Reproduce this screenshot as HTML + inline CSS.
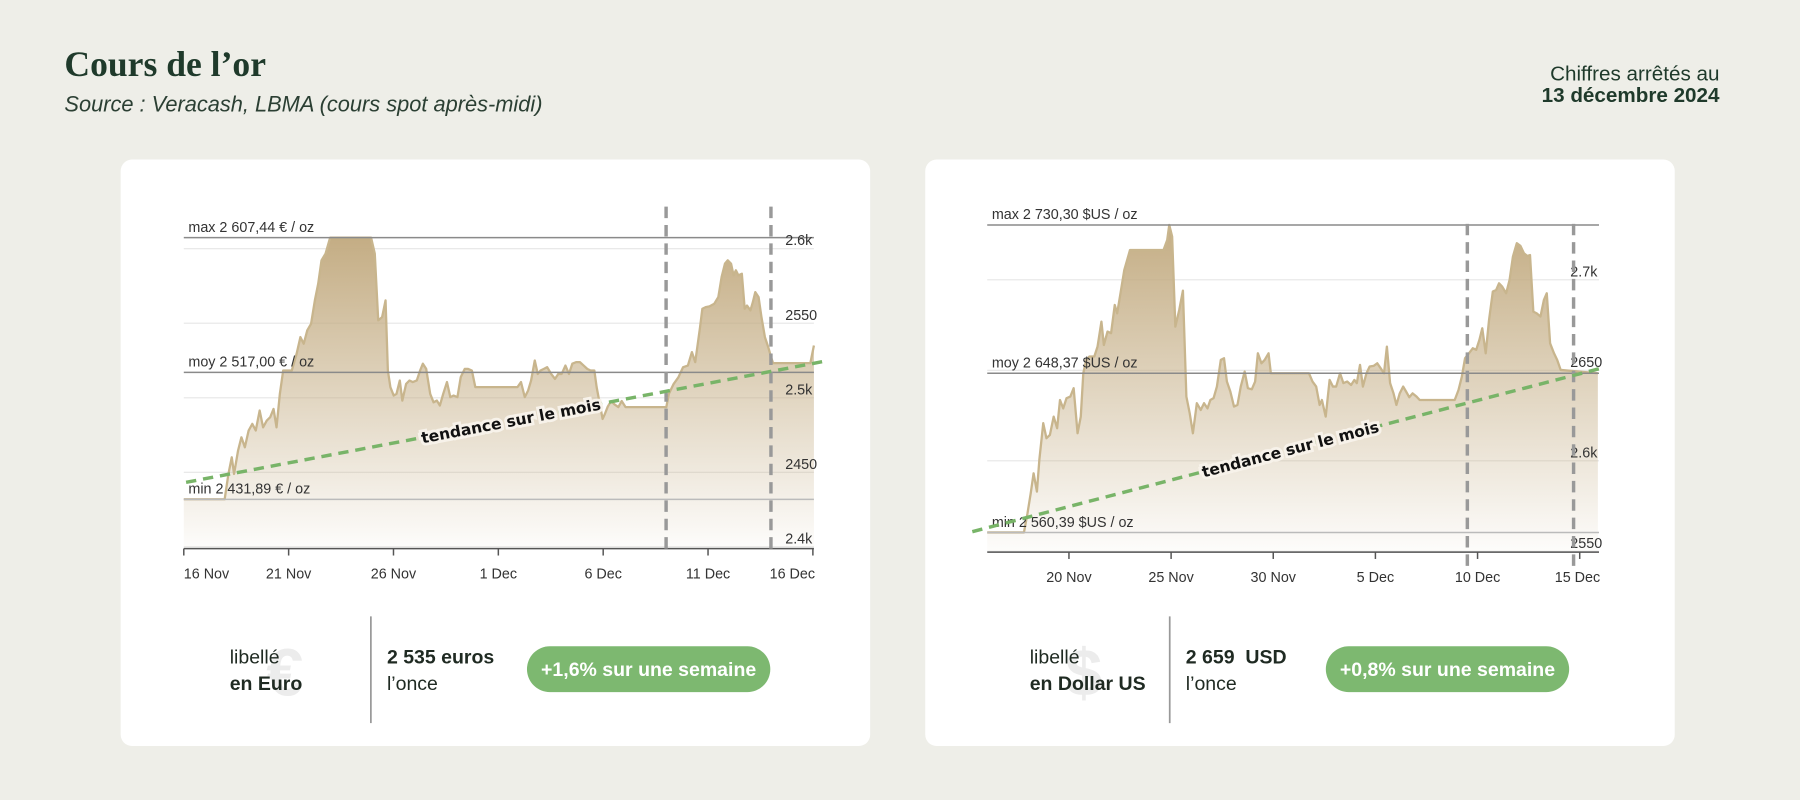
<!DOCTYPE html>
<html><head><meta charset="utf-8"><style>
html,body{margin:0;padding:0;background:#eeeee8;}
svg{display:block;}
.ax{font-family:"Liberation Sans",Arial,sans-serif;font-size:12.5px;fill:#333;}
</style></head><body>
<svg id="root" width="1800" height="800" viewBox="0 0 1568 697" xmlns="http://www.w3.org/2000/svg">
<defs>
<linearGradient id="gL" x1="0" y1="0" x2="0" y2="1"><stop offset="0" stop-color="#c4ad84"/><stop offset="1" stop-color="#c4ad84" stop-opacity="0.03"/></linearGradient>
</defs>
<rect x="0" y="0" width="1568" height="697" fill="#eeeee8"/>
<text x="56" y="66" font-family="'Liberation Serif',serif" font-weight="bold" font-size="31" fill="#1f3a2b">Cours de l’or</text>
<text x="56" y="97" font-family="'Liberation Sans',sans-serif" font-style="italic" font-size="19" fill="#2b3f33">Source : Veracash, LBMA (cours spot après-midi)</text>
<text x="1498" y="70" text-anchor="end" font-family="'Liberation Sans',sans-serif" font-size="18" fill="#1f3a2b">Chiffres arrêtés au</text>
<text x="1498" y="89" text-anchor="end" font-family="'Liberation Sans',sans-serif" font-weight="bold" font-size="18" fill="#1f3a2b">13 décembre 2024</text>

<rect x="105" y="139" width="653" height="511" rx="10" fill="#fff"/>
<rect x="806" y="139" width="653" height="511" rx="10" fill="#fff"/>
<g id="chartL"></g>
<g id="chartR"></g>

<!-- bottom left -->
<text x="232" y="606" font-family="'Liberation Sans',sans-serif" font-weight="bold" font-size="58" fill="#ececec">€</text>
<text x="200" y="578" font-family="'Liberation Sans',sans-serif" font-size="17" fill="#1f2a22">libellé</text>
<text x="200" y="601" font-family="'Liberation Sans',sans-serif" font-weight="bold" font-size="17" fill="#1f2a22">en Euro</text>
<line x1="323" y1="537" x2="323" y2="630" stroke="#999" stroke-width="1.5"/>
<text x="337" y="578" font-family="'Liberation Sans',sans-serif" font-weight="bold" font-size="17" fill="#1f2a22">2 535 euros</text>
<text x="337" y="601" font-family="'Liberation Sans',sans-serif" font-size="17" fill="#1f2a22">l’once</text>
<rect x="459" y="563" width="212" height="40" rx="20" fill="#7db870"/>
<text x="565" y="589" text-anchor="middle" font-family="'Liberation Sans',sans-serif" font-weight="bold" font-size="17" fill="#fff">+1,6% sur une semaine</text>
<!-- bottom right -->
<text x="928" y="606" font-family="'Liberation Sans',sans-serif" font-weight="bold" font-size="58" fill="#ececec">$</text>
<text x="897" y="578" font-family="'Liberation Sans',sans-serif" font-size="17" fill="#1f2a22">libellé</text>
<text x="897" y="601" font-family="'Liberation Sans',sans-serif" font-weight="bold" font-size="17" fill="#1f2a22">en Dollar US</text>
<line x1="1019" y1="537" x2="1019" y2="630" stroke="#999" stroke-width="1.5"/>
<text x="1033" y="578" font-family="'Liberation Sans',sans-serif" font-weight="bold" font-size="17" fill="#1f2a22" xml:space="preserve">2 659  USD</text>
<text x="1033" y="601" font-family="'Liberation Sans',sans-serif" font-size="17" fill="#1f2a22">l’once</text>
<rect x="1155" y="563" width="212" height="40" rx="20" fill="#7db870"/>
<text x="1261" y="589" text-anchor="middle" font-family="'Liberation Sans',sans-serif" font-weight="bold" font-size="17" fill="#fff">+0,8% sur une semaine</text>
</svg>
<script>
// Euro series: day offset from 16 Nov, price EUR/oz
const eurDays=[0,1.95,2.13,2.29,2.40,2.59,2.75,2.91,3.09,3.27,3.43,3.62,3.78,3.96,4.12,4.28,4.42,4.58,4.74,4.92,5.15,5.38,5.56,5.72,5.89,6.07,6.25,6.41,6.57,6.76,6.98,8.93,9.11,9.27,9.46,9.62,9.73,9.85,10.01,10.14,10.30,10.42,10.60,10.76,10.92,11.11,11.27,11.40,11.56,11.75,11.91,12.07,12.21,12.37,12.55,12.71,12.87,13.05,13.21,13.40,13.56,13.74,13.90,15.91,16.08,16.26,16.42,16.56,16.74,16.88,17.01,17.17,17.33,17.52,17.70,17.86,18.02,18.20,18.37,18.53,18.71,18.89,19.07,19.24,19.40,19.58,19.69,19.81,19.97,20.08,20.22,20.38,20.54,20.72,20.88,21.07,23.01,23.13,23.36,23.59,23.81,24.04,24.23,24.39,24.62,24.73,24.89,25.07,25.30,25.49,25.65,25.81,25.94,26.10,26.22,26.33,26.45,26.61,26.75,26.86,27.02,27.14,27.25,27.41,27.55,27.71,27.87,28.01,28.10,29.88,30.05];
const eurVals=[2431.9,2431.9,2448.9,2460.1,2448.9,2464.6,2473.5,2466.8,2478,2482.5,2478,2491.4,2480.2,2484.7,2487,2492.5,2480.2,2502.6,2518.3,2518.3,2518.3,2529.5,2540.7,2536.2,2545.2,2549.6,2565.3,2576.5,2592.2,2596.7,2607.4,2607.4,2596.7,2551.9,2554.1,2565.3,2518.3,2507.1,2501.5,2502.6,2511.6,2498.1,2509.3,2511.6,2510.5,2511.6,2518.3,2522.8,2519.4,2502.6,2497,2498.1,2494.8,2502.6,2510.5,2500.4,2501.5,2500.4,2513.8,2519.4,2519.4,2518.3,2507.1,2507.1,2510.5,2500.4,2504.9,2511.6,2525,2516,2518.3,2519.4,2520.5,2516,2512.7,2516,2516,2521.6,2516,2522.8,2523.9,2523.9,2521.6,2519.4,2518.3,2518.3,2507.1,2498.1,2485.8,2489.2,2494.1,2497.8,2495.5,2493.7,2497.8,2493.7,2493.7,2502.6,2509.3,2513.8,2520.5,2521.6,2530.6,2523.9,2547.4,2559.7,2560.8,2561.3,2563.1,2567.5,2581,2590,2592.2,2590,2582.1,2585.5,2582.1,2583.2,2559.7,2561.9,2558.6,2564.2,2570.9,2567.5,2554.1,2540.7,2534,2527.2,2523.2,2523.2,2535.1];
// USD series
const usdDays=[0,1.80,1.97,2.13,2.27,2.43,2.55,2.74,2.90,3.07,3.25,3.42,3.56,3.72,3.88,4.07,4.23,4.42,4.58,4.70,4.84,5.00,5.24,5.40,5.59,5.71,5.89,6.06,6.24,6.36,6.52,6.71,6.99,8.63,8.81,8.91,9.05,9.21,9.40,9.58,9.75,9.91,10.07,10.26,10.45,10.61,10.78,10.92,11.08,11.24,11.43,11.59,11.73,11.90,12.08,12.25,12.41,12.60,12.76,12.95,13.11,13.25,13.42,13.58,13.77,13.88,15.75,15.92,16.10,16.27,16.38,16.57,16.76,16.92,17.08,17.27,17.43,17.62,17.81,17.97,18.09,18.25,18.39,18.56,18.72,18.91,19.09,19.26,19.42,19.56,19.72,19.89,20.03,20.19,20.36,20.50,20.66,20.82,21.01,21.17,22.88,23.07,23.23,23.39,23.58,23.77,23.93,24.09,24.23,24.40,24.56,24.75,24.91,25.05,25.21,25.40,25.57,25.73,25.92,26.10,26.27,26.43,26.57,26.73,26.90,27.08,27.25,27.39,27.55,27.74,27.90,28.07,29.89];
const usdVals=[2560.4,2560.4,2571.1,2582.1,2593.1,2583,2600.5,2620.8,2612.5,2614.3,2624.4,2618,2633.6,2629,2634.6,2635.5,2640.1,2615.2,2624.4,2648.4,2655.7,2657.6,2657.6,2663.1,2676.9,2664,2671.4,2670.5,2686.1,2681.5,2692.6,2705.4,2716.5,2716.5,2722,2730.3,2723.9,2674.1,2683.4,2694,2635.5,2626.3,2615.2,2631.8,2628.1,2631.8,2629,2633.6,2634.6,2641,2655.7,2656.7,2643.8,2638.3,2630,2630.9,2641,2649.3,2640.1,2639.5,2643.8,2659.4,2653.9,2655.7,2659.4,2648.4,2648.4,2643.8,2641,2630.9,2633.6,2624.4,2644.7,2641,2641,2648.4,2642.9,2643.8,2641.9,2644.7,2642.9,2653,2641,2648.4,2652.1,2652.4,2653.9,2651.1,2648.4,2663.1,2642.9,2637.3,2630.9,2637.3,2641,2638.3,2635.1,2637.3,2635.5,2633.6,2633.6,2639.1,2646.5,2656.7,2659.4,2662.2,2661.3,2666.8,2673.2,2659.4,2677.8,2693.5,2694.4,2698.1,2696.2,2692.6,2699.9,2712.8,2720.2,2718.7,2714.7,2713.2,2713.7,2682.4,2681.5,2679.7,2688.9,2692.6,2664.9,2659.4,2655.7,2650.2,2648.4];
const eurTicks=["16 Nov","21 Nov","26 Nov","1 Dec","6 Dec","11 Dec","16 Dec"];
const eurTickDays=[0,5,10,15,20,25,30];
const usdTicks=["20 Nov","25 Nov","30 Nov","5 Dec","10 Dec","15 Dec"];
const usdTickDays=[4,9,14,19,24,29];
const eurYTicks=[2600,2550,2500,2450,2400];
const eurYLabels=["2.6k","2550","2.5k","2450","2.4k"];
const usdYTicks=[2700,2650,2600,2550];
const usdYLabels=["2.7k","2650","2.6k","2550"];
const eurStats={max:2607.44,moy:2517.00,min:2431.89};
const usdStats={max:2730.30,moy:2648.37,min:2560.39};
const eurStatLabels=["max 2 607,44 € / oz","moy 2 517,00 € / oz","min 2 431,89 € / oz"];
const usdStatLabels=["max 2 730,30 $US / oz","moy 2 648,37 $US / oz","min 2 560,39 $US / oz"];
const eurTrend=[2443,2523];
const usdTrend=[2563,2651];
const eurMarkerDays=[23,28];
const usdMarkerDays=[23.5,28.7];

const NS="http://www.w3.org/2000/svg";
function mk(p,tag,at,txt){const e=document.createElementNS(NS,tag);for(const k in at)e.setAttribute(k,at[k]);if(txt!==undefined)e.textContent=txt;p.appendChild(e);return e;}

function draw(g,cfg){
  const X=d=>cfg.x0+d*cfg.dx, Y=v=>cfg.yMax+(cfg.vMax-v)*cfg.ky;
  const yb=Y(cfg.vBottom);
  // gridlines
  cfg.yt.forEach((v,i)=>{
    const l=mk(g,'line',{x1:cfg.x0,x2:cfg.xEnd,y1:Y(v),y2:Y(v),stroke:'#e6e6e6','stroke-width':1});
    
    
  });
  // area
  let d='M'+X(cfg.days[0])+','+yb;
  cfg.days.forEach((dd,i)=>{d+=' L'+X(dd).toFixed(1)+','+Y(cfg.vals[i]).toFixed(1);});
  d+=' L'+X(cfg.days[cfg.days.length-1])+','+yb+' Z';
  const a=mk(g,'path',{d:d,fill:'url(#gL)'});
  
  
  let dl='';
  cfg.days.forEach((dd,i)=>{dl+=(i?' L':'M')+X(dd).toFixed(1)+','+Y(cfg.vals[i]).toFixed(1);});
  const ln=mk(g,'path',{d:dl,fill:'none',stroke:'#c8b58d','stroke-width':2,'stroke-linejoin':'round'});
  
  
  // stat lines
  const sv=[cfg.stats.max,cfg.stats.moy,cfg.stats.min];
  const scol=['#8a8a8a','#8a8a8a','#bbbbbb'];
  sv.forEach((v,i)=>{
    const l=mk(g,'line',{x1:cfg.x0,x2:cfg.xEnd,y1:Y(v),y2:Y(v),stroke:scol[i],'stroke-width':1.3});
    
    
    const t=mk(g,'text',{x:cfg.x0+4,y:Y(v)-5,class:'ax'},cfg.statLabels[i]);
    
    
  });
  // y labels
  cfg.yt.forEach((v,i)=>{
    const t=mk(g,'text',{x:cfg.ylx,y:Y(v)-3,class:'ax',fill:'#555'},cfg.yl[i]);
    
    
  });
  // x axis
  const ax=mk(g,'line',{x1:cfg.x0,x2:cfg.xEnd,y1:cfg.axisY,y2:cfg.axisY,stroke:'#555','stroke-width':1.3});
  
  
  cfg.td.forEach((dd,i)=>{
    const tk=mk(g,'line',{x1:X(dd),x2:X(dd),y1:cfg.axisY,y2:cfg.axisY+6,stroke:'#555','stroke-width':1.3});
    
    
    let anchor='middle'; if(i===0&&cfg.firstStart)anchor='start';
    let xx=X(dd); if(i===cfg.td.length-1){anchor='end';xx=cfg.xEnd+1;}
    const t=mk(g,'text',{x:xx,y:cfg.axisY+26,class:'ax','text-anchor':anchor},cfg.tl[i]);
    
    
  });
  // markers
  cfg.markers.forEach(dd=>{
    const m=mk(g,'line',{x1:X(dd),x2:X(dd),y1:cfg.mTop,y2:cfg.mBot,stroke:'#999','stroke-width':3,'stroke-dasharray':'10 6'});
    
    
  });
  // trend
  const x1=cfg.tx1,x2=cfg.tx2;
  const d1=(x1-cfg.x0)/cfg.dx,d2=(x2-cfg.x0)/cfg.dx;
  const v1=cfg.trend[0]+(cfg.trend[1]-cfg.trend[0])*d1/30,v2=cfg.trend[0]+(cfg.trend[1]-cfg.trend[0])*d2/30;
  const tr=mk(g,'line',{x1:x1,y1:Y(v1),x2:x2,y2:Y(v2),stroke:'#78b468','stroke-width':3,'stroke-dasharray':'9 6'});
  
  
  const ang=Math.atan2(Y(v2)-Y(v1),x2-x1)*180/Math.PI;
  const tx=cfg.textX, tdd=(tx-cfg.x0)/cfg.dx, tv=cfg.trend[0]+(cfg.trend[1]-cfg.trend[0])*tdd/30;
  const tt=mk(g,'text',{x:tx,y:Y(tv)+5,transform:`rotate(${ang.toFixed(2)} ${tx} ${Y(tv)})`,'text-anchor':'middle','font-family':"'DejaVu Sans','Liberation Sans',sans-serif",'font-weight':'bold','font-size':'13.5',fill:'#111',stroke:'#f7f2ea','stroke-width':5,'paint-order':'stroke'},'tendance sur le mois');
  
  
}
draw(document.getElementById('chartL'),{days:eurDays,vals:eurVals,x0:160,dx:18.27,xEnd:709,yMax:207,vMax:2607.44,ky:1.299,vBottom:2398.8,axisY:478,
  yt:eurYTicks,yl:eurYLabels,ylx:684,td:eurTickDays,tl:eurTicks,firstStart:true,stats:eurStats,statLabels:eurStatLabels,
  markers:eurMarkerDays,mTop:180,mBot:480,trend:eurTrend,tx1:162,tx2:722,textX:445});
draw(document.getElementById('chartR'),{days:usdDays,vals:usdVals,x0:860,dx:17.8,xEnd:1393,yMax:196,vMax:2730.3,ky:1.577,vBottom:2549.5,axisY:481,
  yt:usdYTicks,yl:usdYLabels,ylx:1368,td:usdTickDays,tl:usdTicks,firstStart:false,stats:usdStats,statLabels:usdStatLabels,
  markers:usdMarkerDays,mTop:195,mBot:498,trend:usdTrend,tx1:847,tx2:1396,textX:1124});
</script>
</body></html>
